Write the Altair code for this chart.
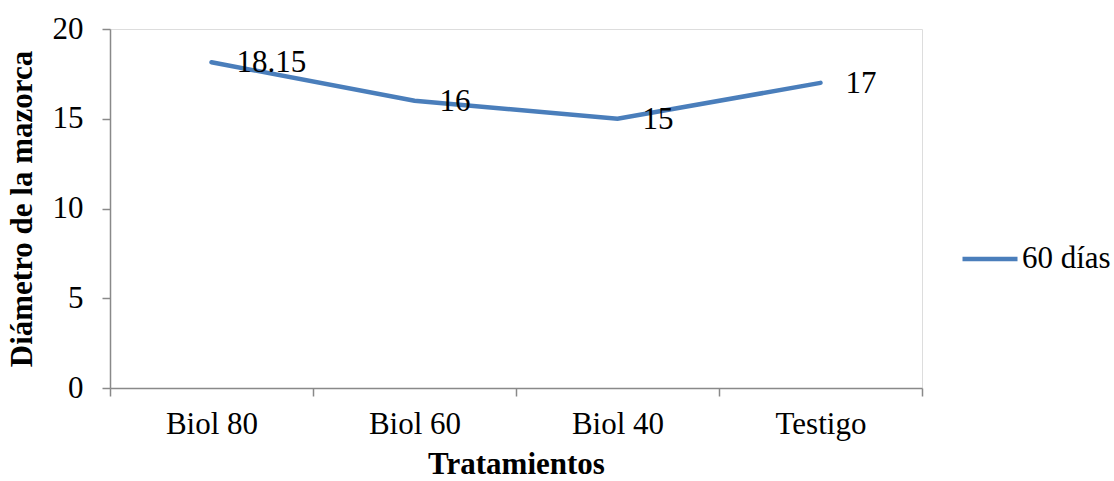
import altair as alt
import pandas as pd

# Ear diameter by treatment, 60 days after sowing
tratamientos = ["Biol 80", "Biol 60", "Biol 40", "Testigo"]
diametro = [18.15, 16, 15, 17]
serie = "60 días"

df = pd.DataFrame({
    "Tratamientos": tratamientos,
    "Diametro": diametro,
    "Serie": [serie] * len(tratamientos),
})

FONT = "Liberation Serif"
AXIS_GREY = "#898989"
LINE_BLUE = "#4A7EBB"
FS = 31

x_enc = alt.X(
    "Tratamientos:N",
    sort=tratamientos,
    scale=alt.Scale(paddingInner=0, paddingOuter=0),
    axis=alt.Axis(
        title="Tratamientos",
        titleFont=FONT, titleFontSize=31, titleFontWeight="bold", titleColor="black",
        titlePadding=10,
        labelFont=FONT, labelFontSize=FS, labelColor="black", labelAngle=0,
        labelPadding=13,
        tickBand="extent", tickSize=8, tickColor=AXIS_GREY, tickWidth=1.5,
        domainColor=AXIS_GREY, domainWidth=1.5,
        grid=False,
    ),
)

y_enc = alt.Y(
    "Diametro:Q",
    scale=alt.Scale(domain=[0, 20]),
    axis=alt.Axis(
        title="Diámetro de la mazorca",
        titleFont=FONT, titleFontSize=31, titleFontWeight="bold", titleColor="black",
        titlePadding=14,
        values=[0, 5, 10, 15, 20],
        labelFont=FONT, labelFontSize=FS, labelColor="black",
        labelPadding=19,
        tickSize=8, tickColor=AXIS_GREY, tickWidth=1.5,
        domainColor=AXIS_GREY, domainWidth=1.5,
        grid=False,
    ),
)

line = alt.Chart(df).mark_line(strokeWidth=4.5, strokeCap="round").encode(
    x=x_enc,
    y=y_enc,
    color=alt.Color(
        "Serie:N",
        scale=alt.Scale(domain=[serie], range=[LINE_BLUE]),
        legend=alt.Legend(
            title=None,
            orient="none", legendX=850, legendY=200,
            symbolType="stroke", symbolSize=3025, symbolStrokeWidth=4.5,
            labelFont=FONT, labelFontSize=FS, labelColor="black",
            labelOffset=2,
        ),
    ),
)

labels = alt.Chart(df).mark_text(
    align="left", baseline="middle", dx=25, dy=1,
    font=FONT, fontSize=FS, color="black",
).encode(
    x=alt.X("Tratamientos:N", sort=tratamientos),
    y=alt.Y("Diametro:Q"),
    text=alt.Text("Diametro:Q", format="~g"),
)

chart = (
    alt.layer(line, labels)
    .properties(
        width=812, height=359,
        autosize=alt.AutoSizeParams(type="none"),
        padding={"left": 110, "top": 29, "right": 192, "bottom": 93},
    )
    .configure_view(stroke=None)
    .configure(background="white")
)

chart.save("out.html", embed_options={"renderer": "svg", "actions": False})
